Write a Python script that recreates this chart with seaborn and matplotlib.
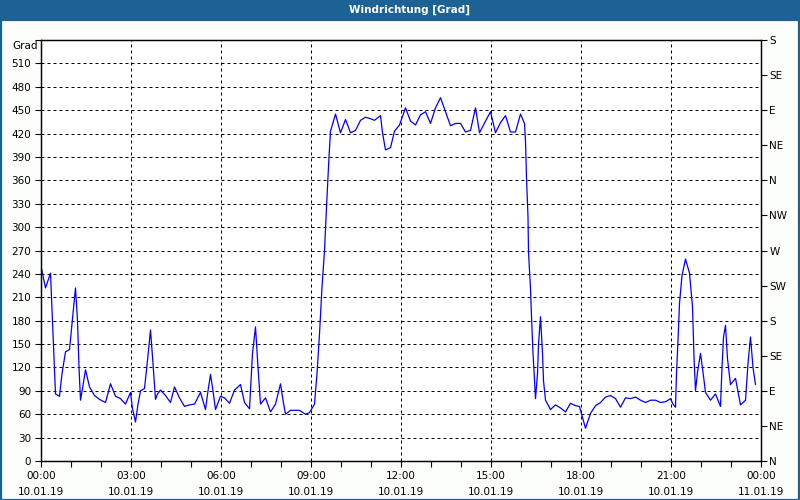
import matplotlib
matplotlib.use("Agg")
import matplotlib.pyplot as plt
import matplotlib.patches as patches
import seaborn as sns
import pandas as pd

# Zeitpunkte (Minuten seit 10.01.19 00:00) und Windrichtung in Grad
minuten = [0, 9, 19, 22, 26, 29, 37, 42, 49, 57, 63, 69, 73, 76, 79, 84, 89, 97,
           107, 117, 129, 139, 149, 159, 169, 179, 183, 189, 194, 199, 207, 213,
           219, 224, 229, 233, 239, 249, 259, 267, 277, 287, 297, 307, 319, 329,
           334, 339, 344, 349, 359, 367, 377, 387, 399, 407, 417, 423, 429, 434,
           439, 449, 459, 469, 479, 484, 489, 499, 517, 529, 537, 547, 552, 557,
           562, 567, 572, 576, 579, 589, 599, 609, 619, 629, 639, 649, 659, 667,
           679, 683, 689, 699, 707, 717, 729, 739, 749, 759, 769, 779, 789, 799,
           809, 819, 829, 839, 849, 859, 869, 877, 889, 899, 909, 919, 929, 939,
           949, 959, 967, 969, 971, 974, 975, 979, 981, 984, 986, 989, 993, 995,
           999, 1003, 1005, 1009, 1019, 1029, 1039, 1049, 1059, 1069, 1077, 1082,
           1089, 1099, 1109, 1119, 1129, 1139, 1149, 1159, 1169, 1179, 1189, 1199,
           1209, 1219, 1229, 1239, 1249, 1259, 1264, 1269, 1271, 1274, 1277, 1282,
           1289, 1297, 1303, 1306, 1309, 1313, 1319, 1324, 1329, 1339, 1349, 1359,
           1362, 1365, 1369, 1373, 1379, 1389, 1399, 1409, 1414, 1419, 1424, 1429]
grad = [250, 222, 241, 195, 131, 86, 83, 112, 140, 143, 183, 222, 180, 120, 78, 97, 117, 95,
        84, 79, 75, 99, 83, 80, 73, 88, 67, 50, 73, 90, 93, 129,
        168, 125, 79, 86, 91, 84, 75, 95, 81, 70, 72, 73, 88, 66,
        90, 111, 90, 66, 83, 81, 74, 91, 98, 75, 67, 138, 172, 120,
        73, 81, 63, 73, 99, 78, 60, 65, 65, 60, 62, 73, 112, 163,
        223, 270, 339, 390, 423, 445, 421, 438, 421, 424, 437, 441, 439, 437,
        443, 421, 399, 402, 423, 431, 453, 436, 431, 444, 448, 433, 453, 466,
        448, 430, 433, 433, 422, 424, 453, 421, 436, 448, 421, 434, 443, 422,
        422, 445, 433, 410, 363, 313, 268, 221, 185, 138, 116, 80, 112, 150,
        185, 138, 103, 78, 66, 72, 68, 63, 74, 71, 70, 58,
        42, 61, 71, 75, 82, 84, 80, 69, 81, 80, 82, 78,
        75, 78, 78, 75, 76, 80, 73, 69, 112, 155, 202, 238,
        259, 241, 198, 133, 90, 114, 138, 114, 88, 78, 86, 70,
        120, 159, 174, 131, 98, 106, 72, 78, 125, 159, 120, 98]

y_ticks = list(range(0, 541, 30))
richtung_ticks = list(range(0, 541, 45))
richtung_labels = ["N", "NE", "E", "SE", "S", "SW", "W", "NW", "N", "NE", "E", "SE", "S"]
x_ticks = list(range(0, 25, 3))
x_labels = ["00:00\n10.01.19", "03:00\n10.01.19", "06:00\n10.01.19", "09:00\n10.01.19",
            "12:00\n10.01.19", "15:00\n10.01.19", "18:00\n10.01.19", "21:00\n10.01.19",
            "00:00\n11.01.19"]

df = pd.DataFrame({"stunde": [m / 60 for m in minuten], "grad": grad})

sns.set_style("white")
plt.rcParams["font.family"] = ["DejaVu Sans"]
plt.rcParams["text.color"] = "black"
plt.rcParams["xtick.labelcolor"] = "black"
plt.rcParams["ytick.labelcolor"] = "black"

blau = "#1d6295"
fig = plt.figure(figsize=(8, 5), dpi=100, facecolor="#fcfefc")
ax = fig.add_axes([41 / 800, 39 / 500, 720 / 800, 421 / 500])
ax.set_facecolor("white")

sns.lineplot(data=df, x="stunde", y="grad", ax=ax, color="#0000ff", linewidth=0.9)

ax.set_xlim(0, 24)
ax.set_ylim(0, 540)
ax.set_xticks(x_ticks)
ax.set_xticklabels(x_labels, fontsize=7.5, linespacing=1.75)
ax.set_xticks(range(0, 25), minor=True)
ax.set_yticks(y_ticks)
# oberster Wert (540) ohne Beschriftung, dort steht "Grad"
ax.set_yticklabels([str(v) if v < 540 else "" for v in y_ticks], fontsize=7.5)
ax.set_xlabel("")
ax.set_ylabel("")
ax.tick_params(axis="both", which="both", direction="out", length=4, width=0.8,
               color="black", labelcolor="black", pad=3, left=True, bottom=True)
ax.grid(True, which="major", color="black", linestyle=(0, (3, 3)), linewidth=0.72)
for s in ax.spines.values():
    s.set_color("black")
    s.set_linewidth(0.9)

ax2 = ax.twinx()
ax2.set_ylim(0, 540)
ax2.set_yticks(richtung_ticks)
ax2.set_yticklabels(richtung_labels, fontsize=7.5)
ax2.tick_params(axis="y", direction="out", length=4, width=0.8, color="black",
                labelcolor="black", pad=2, right=True)
ax2.grid(False)
for s in ax2.spines.values():
    s.set_color("black")
    s.set_linewidth(0.9)

fig.text(25 / 800, 1 - 46 / 500, "Grad", fontsize=7.5, ha="center", va="center", color="black")

# Titelleiste und Rahmen
fig.patches.append(patches.Rectangle((0, 1 - 20 / 500), 1, 20 / 500, transform=fig.transFigure,
                                     facecolor=blau, edgecolor="none", zorder=0))
fig.patches.append(patches.Rectangle((0.5 / 800, 0.5 / 500), 798.5 / 800, 480 / 500,
                                     transform=fig.transFigure, facecolor="none",
                                     edgecolor=blau, linewidth=1.6, zorder=0))
fig.text(410 / 800, 1 - 10 / 500, "Windrichtung [Grad]", color="white", fontsize=7.5,
         fontweight="bold", ha="center", va="center")

fig.savefig("out.png", dpi=100, facecolor=fig.get_facecolor())
